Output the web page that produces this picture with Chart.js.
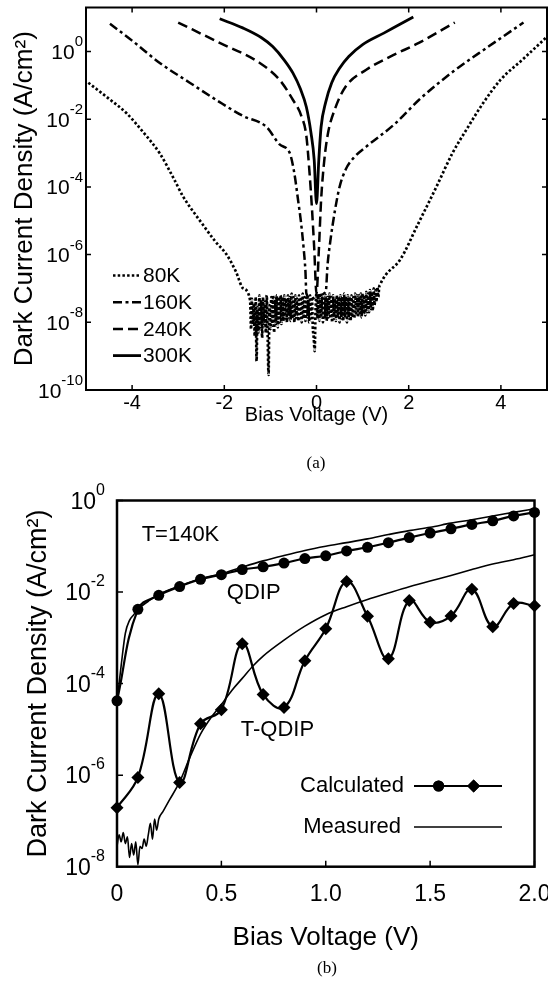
<!DOCTYPE html>
<html lang="en">
<head>
<meta charset="UTF-8">
<title>Dark Current Density vs Bias Voltage</title>
<script src="https://cdn.jsdelivr.net/npm/chart.js@4.4.1/dist/chart.umd.min.js"></script>
<style>
  html, body { margin: 0; padding: 0; background: #fff; }
  body { width: 548px; height: 991px; position: relative; overflow: hidden; }
  canvas { position: absolute; left: 0; }
  #chartA { top: 0; }
  #chartB { top: 470px; }
  .cap { position: absolute; font-family: "Liberation Serif", "Times New Roman", serif; font-size: 17px; color: #000; transform: translate(-50%, -50%); }
</style>
</head>
<body>
<canvas id="chartA" width="548" height="440"></canvas>
<canvas id="chartB" width="548" height="490"></canvas>
<div class="cap" style="left:316px; top:463px;">(a)</div>
<div class="cap" style="left:327px; top:968px;">(b)</div>

<script>
const FONT = '"Liberation Sans", Arial, Helvetica, sans-serif';

// ---------- panel (a) data ----------
const aSeriesNames = ['80K', '160K', '240K', '300K'];
const aXTicks = [-4, -2, 0, 2, 4];
const aYExps = [0, -2, -4, -6, -8, -10];

// 80K: left branch, noisy floor, right branch
const v80Left = [-4.95, -4.5, -4.12, -3.75, -3.4, -3.1, -2.89, -2.5, -2.2, -1.95, -1.75, -1.59];
const j80Left = [1.2e-1, 4.0e-2, 1.5e-2, 4.0e-3, 9.8e-4, 1.8e-4, 5.1e-5, 8.9e-6, 2.5e-6, 1.0e-6, 3.2e-7, 1.0e-7];
const v80Floor = [-1.44, -1.42, -1.40, -1.38, -1.36, -1.34, -1.32, -1.30, -1.28, -1.26,
  -1.24, -1.22, -1.20, -1.18, -1.16, -1.14, -1.12, -1.10, -1.08, -1.06,
  -1.04, -1.02, -1.00, -0.98, -0.96, -0.94, -0.92, -0.90, -0.88, -0.86,
  -0.84, -0.82, -0.80, -0.78, -0.76, -0.74, -0.72, -0.70, -0.68, -0.66,
  -0.64, -0.62, -0.60, -0.58, -0.56, -0.54, -0.52, -0.50, -0.48, -0.46,
  -0.44, -0.42, -0.40, -0.38, -0.36, -0.34, -0.32, -0.30, -0.28, -0.26,
  -0.24, -0.22, -0.20, -0.18, -0.16, -0.14, -0.12, -0.10, -0.08, -0.06,
  -0.04, -0.02, 0.00, 0.02, 0.04, 0.06, 0.08, 0.10, 0.12, 0.14,
  0.16, 0.18, 0.20, 0.22, 0.24, 0.26, 0.28, 0.30, 0.32, 0.34,
  0.36, 0.38, 0.40, 0.42, 0.44, 0.46, 0.48, 0.50, 0.52, 0.54,
  0.56, 0.58, 0.60, 0.62, 0.64, 0.66, 0.68, 0.70, 0.72, 0.74,
  0.76, 0.78, 0.80, 0.82, 0.84, 0.86, 0.88, 0.90, 0.92, 0.94,
  0.96, 0.98, 1.00, 1.02, 1.04, 1.06, 1.08, 1.10, 1.12, 1.14,
  1.16, 1.18, 1.20, 1.22, 1.24, 1.26, 1.28, 1.30, 1.32, 1.34,
  1.36, 1.38];
const j80Floor = [4.5e-8, 6.3e-9, 5.0e-8, 8.9e-9, 3.5e-8, 4.0e-9, 5.6e-8, 7.1e-10, 2.8e-8, 5.0e-9,
  6.3e-8, 7.1e-9, 4.5e-8, 3.5e-9, 5.6e-8, 8.9e-9, 4.0e-8, 5.0e-9, 6.3e-8, 4.5e-9,
  2.8e-10, 3.2e-8, 6.3e-9, 5.6e-8, 7.9e-9, 6.3e-8, 5.0e-9, 5.0e-8, 8.9e-9, 6.3e-8,
  7.1e-9, 5.6e-8, 1.0e-8, 6.3e-8, 8.9e-9, 5.6e-8, 1.1e-8, 6.3e-8, 1.3e-8, 5.0e-8,
  1.0e-8, 6.3e-8, 1.4e-8, 5.6e-8, 1.1e-8, 7.1e-8, 1.3e-8, 5.6e-8, 1.0e-8, 6.3e-8,
  1.4e-8, 5.0e-8, 1.1e-8, 6.3e-8, 1.3e-8, 5.6e-8, 1.0e-8, 7.1e-8, 1.3e-8, 5.6e-8,
  1.1e-8, 6.3e-8, 1.4e-8, 5.0e-8, 1.0e-8, 6.3e-8, 1.3e-8, 5.6e-8, 7.1e-9, 3.5e-9,
  1.4e-9, 2.5e-8, 7.1e-8, 1.3e-8, 6.3e-8, 1.1e-8, 5.6e-8, 1.4e-8, 6.3e-8, 1.0e-8,
  5.0e-8, 1.3e-8, 6.3e-8, 1.1e-8, 5.6e-8, 1.4e-8, 7.1e-8, 1.3e-8, 5.6e-8, 1.0e-8,
  6.3e-8, 1.3e-8, 5.0e-8, 1.1e-8, 6.3e-8, 1.4e-8, 5.6e-8, 1.0e-8, 6.3e-8, 1.3e-8,
  5.6e-8, 1.1e-8, 7.1e-8, 1.4e-8, 5.6e-8, 1.0e-8, 6.3e-8, 1.3e-8, 5.6e-8, 1.1e-8,
  6.3e-8, 1.4e-8, 5.6e-8, 1.3e-8, 7.1e-8, 1.6e-8, 6.3e-8, 1.4e-8, 6.3e-8, 1.6e-8,
  7.1e-8, 1.4e-8, 7.1e-8, 1.8e-8, 6.3e-8, 1.6e-8, 7.9e-8, 2.0e-8, 7.1e-8, 2.0e-8,
  8.9e-8, 2.5e-8, 7.9e-8, 2.2e-8, 1.0e-7, 3.2e-8, 8.9e-8, 4.0e-8, 1.1e-7, 5.6e-8,
  1.1e-7, 1.3e-7];
const v80Right = [1.5, 1.81, 2.2, 2.6, 2.95, 3.27, 3.6, 3.99, 4.5, 5.0];
const j80Right = [2.5e-7, 6.9e-7, 7.9e-6, 1.0e-4, 1.0e-3, 5.4e-3, 2.8e-2, 1.45e-1, 6.3e-1, 2.75];

const v160 = [-4.48, -4.0, -3.4, -2.75, -2.1, -1.6, -1.09, -0.8, -0.58, -0.48, -0.40, -0.34, -0.28, -0.24, -0.22,
  -0.1, 0.05, 0.2, 0.24, 0.3, 0.4, 0.5, 0.63, 0.8, 1.08, 1.69, 2.22, 2.97, 3.73, 4.49];
const j160 = [6.6, 2.1, 0.46, 0.12, 3.2e-2, 1.26e-2, 6.0e-3, 1.8e-3, 1.0e-3, 2.5e-4, 4.1e-5, 1.0e-5, 1.6e-6, 3.2e-7, 7.1e-8,
  5.0e-8, 6.3e-8, 7.9e-8, 5.0e-7, 2.5e-6, 2.0e-5, 1.0e-4, 3.2e-4, 7.1e-4, 1.55e-3, 7.1e-3, 3.7e-2, 0.26, 1.4, 7.2];

const v240 = [-3.0, -2.1, -1.23, -0.8, -0.51, -0.33, -0.22, -0.15, -0.1, -0.05, 0.0, 0.05, 0.1, 0.17, 0.25, 0.4,
  0.63, 1.08, 1.6, 2.22, 3.0];
const j240 = [7.2, 1.8, 0.46, 0.145, 3.7e-2, 1.26e-2, 3.2e-3, 2.5e-4, 2.5e-5, 1.6e-6, 7.1e-8, 1.26e-6, 4.1e-5, 6.3e-4, 3.9e-3, 2.0e-2,
  9.1e-2, 0.29, 0.71, 1.8, 7.2];

const v300 = [-2.1, -1.6, -1.2, -0.95, -0.7, -0.51, -0.35, -0.22, -0.12, -0.05, 0.0, 0.05, 0.1, 0.2, 0.33, 0.5, 0.7,
  1.0, 1.46, 1.8, 2.1];
const j300 = [9.3, 5.0, 2.6, 1.4, 0.56, 0.23, 7.9e-2, 2.3e-2, 4.0e-3, 6.3e-4, 3.2e-5, 6.3e-4, 6.0e-3, 3.2e-2, 0.12, 0.32, 0.71,
  1.6, 3.5, 6.3, 10.5];

// ---------- panel (b) data ----------
const bXTicks = [0, 0.5, 1.0, 1.5, 2.0];
const bXTickLabels = ['0', '0.5', '1.0', '1.5', '2.0'];
const bYExps = [0, -2, -4, -6, -8];
const bSeriesNames = ['Calculated', 'Measured'];

const bCalcV = [0, 0.1, 0.2, 0.3, 0.4, 0.5, 0.6, 0.7, 0.8, 0.9, 1.0, 1.1, 1.2, 1.3, 1.4, 1.5, 1.6, 1.7, 1.8, 1.9, 2.0];
const qdipCalc = [4.2e-5, 4.2e-3, 8.5e-3, 1.32e-2, 1.9e-2, 2.4e-2, 3.1e-2, 3.55e-2, 4.3e-2, 5.4e-2, 6.2e-2,
  7.9e-2, 9.5e-2, 0.12, 0.155, 0.195, 0.24, 0.30, 0.36, 0.46, 0.55];
const tqdipCalc = [1.95e-7, 8.9e-7, 6.0e-5, 6.9e-7, 1.32e-5, 2.7e-5, 7.4e-4, 5.8e-5, 3.0e-5, 3.16e-4, 1.58e-3,
  1.7e-2, 2.95e-3, 3.5e-4, 6.5e-3, 2.2e-3, 3.0e-3, 1.15e-2, 1.74e-3, 5.6e-3, 5.0e-3];

const qdipMeasV = [0, 0.02, 0.04, 0.06, 0.08, 0.1, 0.15, 0.2, 0.3, 0.4, 0.5, 0.6, 0.7, 0.8, 0.9, 1.0, 1.1, 1.2, 1.3,
  1.4, 1.5, 1.6, 1.7, 1.8, 1.9, 2.0];
const qdipMeas = [4.0e-5, 2.5e-4, 1.26e-3, 2.4e-3, 3.2e-3, 4.2e-3, 6.3e-3, 8.9e-3, 1.35e-2, 1.95e-2, 2.5e-2, 3.5e-2,
  4.8e-2, 6.3e-2, 8.1e-2, 0.10, 0.12, 0.145, 0.18, 0.22, 0.26, 0.32, 0.38, 0.46, 0.55, 0.66];

const tqdipMeasV = [0, 0.01, 0.02, 0.03, 0.04, 0.05, 0.06, 0.07, 0.08, 0.09, 0.10, 0.11, 0.12, 0.13, 0.14, 0.15, 0.16,
  0.17, 0.18, 0.19, 0.20, 0.22, 0.25, 0.30, 0.35, 0.40, 0.45, 0.50, 0.55, 0.60, 0.65, 0.70, 0.80, 0.90, 1.0, 1.1, 1.2,
  1.3, 1.4, 1.5, 1.6, 1.7, 1.8, 1.9, 2.0];
const tqdipMeas = [2.8e-8, 5.0e-8, 3.5e-8, 5.6e-8, 3.2e-8, 4.5e-8, 1.6e-8, 3.2e-8, 1.8e-8, 3.5e-8, 1.1e-8, 2.8e-8,
  2.5e-8, 4.0e-8, 2.8e-8, 5.0e-8, 8.9e-8, 4.0e-8, 1.1e-7, 6.3e-8, 1.1e-7, 1.6e-7, 2.8e-7, 7.1e-7, 2.5e-6, 7.9e-6,
  1.8e-5, 3.5e-5, 7.1e-5, 1.3e-4, 2.4e-4, 4.0e-4, 8.9e-4, 1.8e-3, 3.2e-3, 4.8e-3, 6.9e-3, 9.5e-3, 1.3e-2, 1.74e-2,
  2.3e-2, 3.1e-2, 4.1e-2, 5.1e-2, 6.5e-2];

function pts(xs, ys) {
  return xs.map((x, i) => ({x: x, y: ys[i]}));
}

// "10" with a raised exponent, right-aligned at xRight
function powerLabel(ctx, exp, xRight, y, size, supSize) {
  ctx.font = size + 'px ' + FONT;
  const wb = ctx.measureText('10').width;
  ctx.font = supSize + 'px ' + FONT;
  const ws = ctx.measureText(exp).width;
  const x0 = xRight - ws - wb;
  ctx.textAlign = 'left';
  ctx.textBaseline = 'alphabetic';
  ctx.font = size + 'px ' + FONT;
  ctx.fillText('10', x0, y + size * 0.36);
  ctx.font = supSize + 'px ' + FONT;
  ctx.fillText(exp, x0 + wb, y - size * 0.5 + supSize * 0.36);
}

// box, inward ticks and power-of-ten labels
const framePlugin = {
  id: 'frame',
  beforeDatasetsDraw(chart, args, o) {
    const {ctx, chartArea: a, scales: {x, y}} = chart;
    ctx.save();
    ctx.strokeStyle = '#000';
    ctx.fillStyle = '#000';
    ctx.lineWidth = o.lineWidth;
    ctx.strokeRect(a.left, a.top, a.right - a.left, a.bottom - a.top);
    ctx.beginPath();
    x.ticks.forEach(t => {
      const px = x.getPixelForValue(t.value);
      ctx.moveTo(px, a.bottom); ctx.lineTo(px, a.bottom - o.tickLen);
      if (o.mirror) { ctx.moveTo(px, a.top); ctx.lineTo(px, a.top + o.tickLen); }
    });
    y.ticks.forEach(t => {
      const py = y.getPixelForValue(t.value);
      ctx.moveTo(a.left, py); ctx.lineTo(a.left + o.tickLen, py);
      if (o.mirror) { ctx.moveTo(a.right, py); ctx.lineTo(a.right - o.tickLen, py); }
    });
    ctx.lineWidth = 1.5;
    ctx.stroke();
    o.exps.forEach(e => {
      powerLabel(ctx, String(e), a.left - o.labelPad, y.getPixelForValue(Math.pow(10, e)), o.size, o.supSize);
    });
    ctx.restore();
  }
};

// legend of panel (a): line samples in the dataset styles
const legendAPlugin = {
  id: 'legendA',
  afterDatasetsDraw(chart) {
    const ctx = chart.ctx;
    ctx.save();
    ctx.strokeStyle = '#000';
    ctx.fillStyle = '#000';
    ctx.font = '21px ' + FONT;
    ctx.textAlign = 'left';
    ctx.textBaseline = 'middle';
    chart.data.datasets.forEach((ds, i) => {
      const yy = 275.5 + i * 26.7;
      ctx.setLineDash(ds.borderDash);
      ctx.lineWidth = ds.borderWidth;
      ctx.beginPath();
      ctx.moveTo(113, yy); ctx.lineTo(141, yy);
      ctx.stroke();
      ctx.setLineDash([]);
      ctx.fillText(ds.label, 143, yy + 1);
    });
    ctx.restore();
  }
};

// legend and labels of panel (b)
const legendBPlugin = {
  id: 'legendB',
  afterDatasetsDraw(chart) {
    const {ctx, scales: {x, y}} = chart;
    ctx.save();
    ctx.strokeStyle = '#000';
    ctx.fillStyle = '#000';
    ctx.font = '22px ' + FONT;
    ctx.textBaseline = 'middle';
    ctx.textAlign = 'left';
    ctx.fillText('T=140K', x.getPixelForValue(0.118), y.getPixelForValue(0.178));
    ctx.fillText('QDIP', x.getPixelForValue(0.526), y.getPixelForValue(9.5e-3));
    ctx.fillText('T-QDIP', x.getPixelForValue(0.593), y.getPixelForValue(9.8e-6));
    ctx.textAlign = 'right';
    const rows = [316, 357];
    ctx.fillText(bSeriesNames[0], 404, rows[0]);
    ctx.fillText(bSeriesNames[1], 401, rows[1]);
    ctx.lineWidth = 2;
    ctx.beginPath(); ctx.moveTo(414, rows[0]); ctx.lineTo(502, rows[0]); ctx.stroke();
    ctx.lineWidth = 1.5;
    ctx.beginPath(); ctx.moveTo(414, rows[1]); ctx.lineTo(502, rows[1]); ctx.stroke();
    Chart.helpers.drawPoint(ctx, {pointStyle: 'circle', radius: 5.5, rotation: 0}, 438.6, rows[0]);
    ctx.fill();
    Chart.helpers.drawPoint(ctx, {pointStyle: 'rectRot', radius: 6.5, rotation: 0}, 473.6, rows[0]);
    ctx.fill();
    ctx.restore();
  }
};

function lineDefaults(d) {
  return Object.assign({borderColor: '#000', backgroundColor: '#000', pointRadius: 0, fill: false, clip: false}, d);
}

// ---------- chart (a) ----------
new Chart(document.getElementById('chartA'), {
  type: 'line',
  data: {
    datasets: [
      {label: aSeriesNames[0], data: pts(v80Left, j80Left).concat(pts(v80Floor, j80Floor), pts(v80Right, j80Right)),
        borderDash: [2.5, 2.2], borderWidth: 2.7},
      {label: aSeriesNames[1], data: pts(v160, j160), borderDash: [9, 3.5, 3, 3.5], borderWidth: 2.5},
      {label: aSeriesNames[2], data: pts(v240, j240), borderDash: [10, 5], borderWidth: 2.5},
      {label: aSeriesNames[3], data: pts(v300, j300), borderDash: [], borderWidth: 2.8}
    ].map(d => lineDefaults(Object.assign({cubicInterpolationMode: 'monotone'}, d)))
  },
  options: {
    responsive: false,
    animation: false,
    devicePixelRatio: 1,
    layout: {padding: {top: 7.5, right: 1, bottom: 0, left: 0}},
    plugins: {
      legend: {display: false},
      tooltip: {enabled: false},
      frame: {lineWidth: 2, tickLen: 5, mirror: true, exps: aYExps, size: 21, supSize: 15, labelPad: 3}
    },
    scales: {
      x: {
        type: 'linear', min: -5, max: 5,
        afterBuildTicks: s => { s.ticks = aXTicks.map(v => ({value: v})); },
        afterFit: s => { s.height = 50; s.paddingLeft = 0; s.paddingRight = 0; },
        grid: {display: false, drawTicks: false},
        border: {display: false},
        ticks: {color: '#000', font: {family: FONT, size: 20}, padding: 1, maxRotation: 0, autoSkip: false},
        title: {display: true, text: 'Bias Voltage (V)', color: '#000', font: {family: FONT, size: 20}, padding: {top: 0, bottom: 13}}
      },
      y: {
        type: 'logarithmic', min: 1e-10, max: 20,
        afterBuildTicks: s => { s.ticks = aYExps.map(e => ({value: Math.pow(10, e)})); },
        afterFit: s => { s.width = 86; s.paddingTop = 0; s.paddingBottom = 0; },
        grid: {display: false, drawTicks: false},
        border: {display: false},
        ticks: {display: false},
        title: {display: true, text: 'Dark Current Density (A/cm²)', color: '#000', font: {family: FONT, size: 26}, padding: {top: 9.4, bottom: 0}}
      }
    }
  },
  plugins: [framePlugin, legendAPlugin]
});

// ---------- chart (b) ----------
new Chart(document.getElementById('chartB'), {
  type: 'line',
  data: {
    datasets: [
      {label: 'QDIP measured', data: pts(qdipMeasV, qdipMeas), borderWidth: 1.6, cubicInterpolationMode: 'monotone'},
      {label: 'T-QDIP measured', data: pts(tqdipMeasV, tqdipMeas), borderWidth: 1.6, cubicInterpolationMode: 'monotone'},
      {label: 'QDIP calculated', data: pts(bCalcV, qdipCalc), borderWidth: 2.2, tension: 0.4,
        pointStyle: 'circle', pointRadius: 5.5, pointBorderWidth: 0},
      {label: 'T-QDIP calculated', data: pts(bCalcV, tqdipCalc), borderWidth: 2.2, tension: 0.4,
        pointStyle: 'rectRot', pointRadius: 6.5, pointBorderWidth: 0}
    ].map(lineDefaults)
  },
  options: {
    responsive: false,
    animation: false,
    devicePixelRatio: 1,
    layout: {padding: {top: 30.5, right: 13.5, bottom: 0, left: 0}},
    plugins: {
      legend: {display: false},
      tooltip: {enabled: false},
      frame: {lineWidth: 2.5, tickLen: 6, mirror: false, exps: bYExps, size: 23, supSize: 16, labelPad: 12}
    },
    scales: {
      x: {
        type: 'linear', min: 0, max: 2,
        afterBuildTicks: s => { s.ticks = bXTicks.map(v => ({value: v})); },
        afterFit: s => { s.height = 93.3; s.paddingLeft = 0; s.paddingRight = 0; },
        grid: {display: false, drawTicks: false},
        border: {display: false},
        ticks: {color: '#000', font: {family: FONT, size: 23}, padding: 14.5, maxRotation: 0, autoSkip: false,
          callback: (v, i) => bXTickLabels[i]},
        title: {display: true, text: 'Bias Voltage (V)', color: '#000', font: {family: FONT, size: 26}, padding: {top: 0, bottom: 6.4}}
      },
      y: {
        type: 'logarithmic', min: 1e-8, max: 1,
        afterBuildTicks: s => { s.ticks = bYExps.map(e => ({value: Math.pow(10, e)})); },
        afterFit: s => { s.width = 117; s.paddingTop = 0; s.paddingBottom = 0; },
        grid: {display: false, drawTicks: false},
        border: {display: false},
        ticks: {display: false},
        title: {display: true, text: 'Dark Current Density (A/cm²)', color: '#000', font: {family: FONT, size: 27}, padding: {top: 22.8, bottom: 0}}
      }
    }
  },
  plugins: [framePlugin, legendBPlugin]
});
</script>
</body>
</html>
